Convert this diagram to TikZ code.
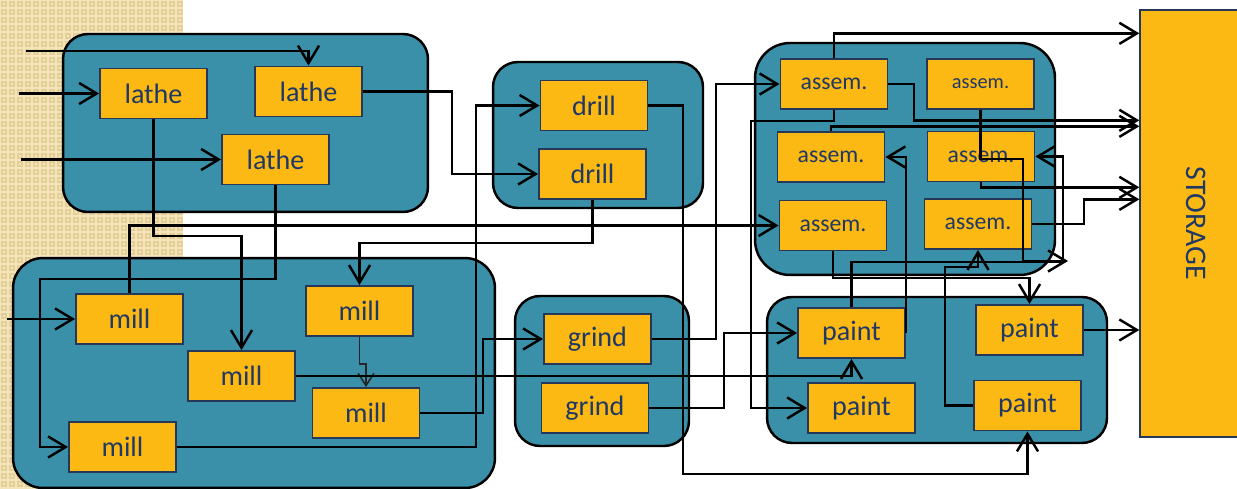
\documentclass[tikz,border=0pt]{standalone}
\usepackage{fontspec}
\setmainfont{Carlito}
\usetikzlibrary{arrows.meta,calc}
\definecolor{grpteal}{HTML}{3A90A8}
\definecolor{boxorange}{HTML}{FDB913}
\definecolor{boxline}{HTML}{26385A}
\definecolor{navytext}{HTML}{1F3864}
\definecolor{strip}{HTML}{F4E4BA}
\definecolor{stripdot}{HTML}{E5CF98}
\tikzset{
	grp/.style={draw=black, line width=1.4pt, fill=grpteal, rounded corners=0.5cm, inner sep=0pt},
	machine/.style={draw=boxline, line width=1.1pt, fill=boxorange, text=navytext,
			minimum width=2.14cm, minimum height=1cm, inner sep=0pt,
			font=\fontsize{16}{18}\selectfont},
	assy/.style={machine, font=\fontsize{13.5}{16}\selectfont},
	flow/.style={line width=1.4pt, -{Straight Barb[length=10pt,width=12pt]}}
}

\begin{document}
\begin{tikzpicture}[x=0.02cm, y=-0.02cm]
    \useasboundingbox (0,0) rectangle (1237,489);

    % textured strip
    \fill[strip] (0,0) rectangle (183,489);
    \foreach \i in {0,...,22}
      \foreach \j in {0,...,61}
        \draw[stripdot, line width=0.6pt] (\i*8+2,\j*8+2) rectangle ++(4,4);

    % departments
    \node[grp, minimum width=7.30cm, minimum height=3.56cm] (latheGrp) at (245.5,123) {};
    \node[grp, minimum width=9.64cm, minimum height=4.60cm, rounded corners=0.6cm] (millGrp) at (254,373) {};
    \node[grp, minimum width=4.20cm, minimum height=2.92cm] (drillGrp) at (598,135) {};
    \node[grp, minimum width=3.48cm, minimum height=3.00cm] (grindGrp) at (602,371) {};
    \node[grp, minimum width=6.00cm, minimum height=4.64cm, rounded corners=0.7cm] (assemGrp) at (905,159) {};
    \node[grp, minimum width=6.80cm, minimum height=2.92cm] (paintGrp) at (937,370) {};

    % machines
    \node[machine] (L1) at (153.5,93.5) {lathe};
    \node[machine] (L2) at (308.5,91.5) {lathe};
    \node[machine] (L3) at (275.5,159.5) {lathe};
    \node[machine] (M1) at (129.5,319) {mill};
    \node[machine] (M2) at (241.5,376) {mill};
    \node[machine] (M3) at (359.5,311) {mill};
    \node[machine] (M4) at (366,413) {mill};
    \node[machine] (M5) at (122.5,447) {mill};
    \node[machine] (D1) at (594,105.5) {drill};
    \node[machine] (D2) at (592.5,174) {drill};
    \node[machine] (G1) at (597.5,339) {grind};
    \node[machine] (G2) at (595,408) {grind};
    \node[assy] (A1) at (834,84) {assem.};
    \node[assy, font=\fontsize{11.6}{14}\selectfont] (A2) at (980.5,84) {assem.};
    \node[assy] (A3) at (831,157) {assem.};
    \node[assy] (A4) at (981,156.5) {assem.};
    \node[assy] (A5) at (833,225.5) {assem.};
    \node[assy] (A6) at (978,224) {assem.};
    \node[machine] (P1) at (851.5,333) {paint};
    \node[machine] (P2) at (1029.5,330) {paint};
    \node[machine] (P3) at (861.5,408) {paint};
    \node[machine] (P4) at (1027.5,405.5) {paint};
    \node[machine, line width=0.8pt, minimum width=2.24cm, minimum height=8.54cm,
          font=\fontsize{17}{20}\selectfont] (Storage) at (1196,223.5) {\rotatebox{-90}{STORAGE}};

    % free ends
    \coordinate (in1) at (26,51);
    \coordinate (in2) at (19,93.5);
    \coordinate (in3) at (21,159.5);
    \coordinate (in4) at (7,319);
    \coordinate (out1) at (1068,261);

    % material flow
    \draw[flow] (in1) -| (L2.north);
    \draw[flow] (in2) -- (L1.west);
    \draw[flow] (in3) -- (L3.west);
    \draw[flow] (in4) -- (M1.west);
    \draw[flow] (L2.east) -- ++(89,0) |- (D2.west);
    \draw[flow] (L1.south) -- ++(0,116.5) -| (M2.north);
    \draw[flow] (L3.south) -- ++(0,93.5) -- ++(-235.5,0) |- (M5.west);
    \draw[flow] (M1.north) |- (A5.west);
    \draw[flow] (D2.south) -- ++(0,43) -| (M3.north);
    \draw[flow, line width=0.9pt, draw=black!85, -{Straight Barb[length=7pt,width=9pt]}]
      (M3.south) -- ++(0,27) -| (M4.north);
    \draw[flow] (M2.east) -| (P1.south);
    \draw[flow] (M4.east) -- ++(62.5,0) |- (G1.west);
    \draw[flow] (M5.east) -- ++(299,0) |- (D1.west);
    \draw[flow] (D1.east) -- ++(34.5,0) -- ++(0,368.5) -| (P4.south);
    \draw[flow] (G1.east) -- ++(64,0) |- (A1.west);
    \draw[flow] (A1.south) -- ++(0,11) -- ++(-83,0) |- (P3.west);
    \draw[flow] (G2.east) -- ++(74.5,0) |- (P1.west);
    \draw[flow] (A1.north) |- ($(Storage.north west)+(0,24)$);
    \draw[flow] (A1.east) -- ++(25.5,0) |- ($(Storage.north west)+(0,111)$);
    \draw[flow] (A3.north) |- ($(Storage.north west)+(0,117)$);
    \draw[flow] (A2.south) -- ++(0,49) -- ++(42.5,0) |- (out1);
    \draw[flow] (A4.south) |- ($(Storage.north west)+(0,178)$);
    \draw[flow] (A6.east) -- ++(51.5,0) |- ($(Storage.north west)+(0,190)$);
    \draw[flow] (P1.north) -- ++(0,-45) -- ++(211.5,0) |- (A4.east);
    \draw[flow] (P1.east) |- (A3.east);
    \draw[flow] (A5.south) -- ++(0,26.5) -| (P2.north);
    \draw[flow] (P4.west) -- ++(-28,0) -- ++(0,-138.5) -| (A6.south);
    \draw[flow] (P2.east) -- (P2.east -| Storage.west);
\end{tikzpicture}
\end{document}
